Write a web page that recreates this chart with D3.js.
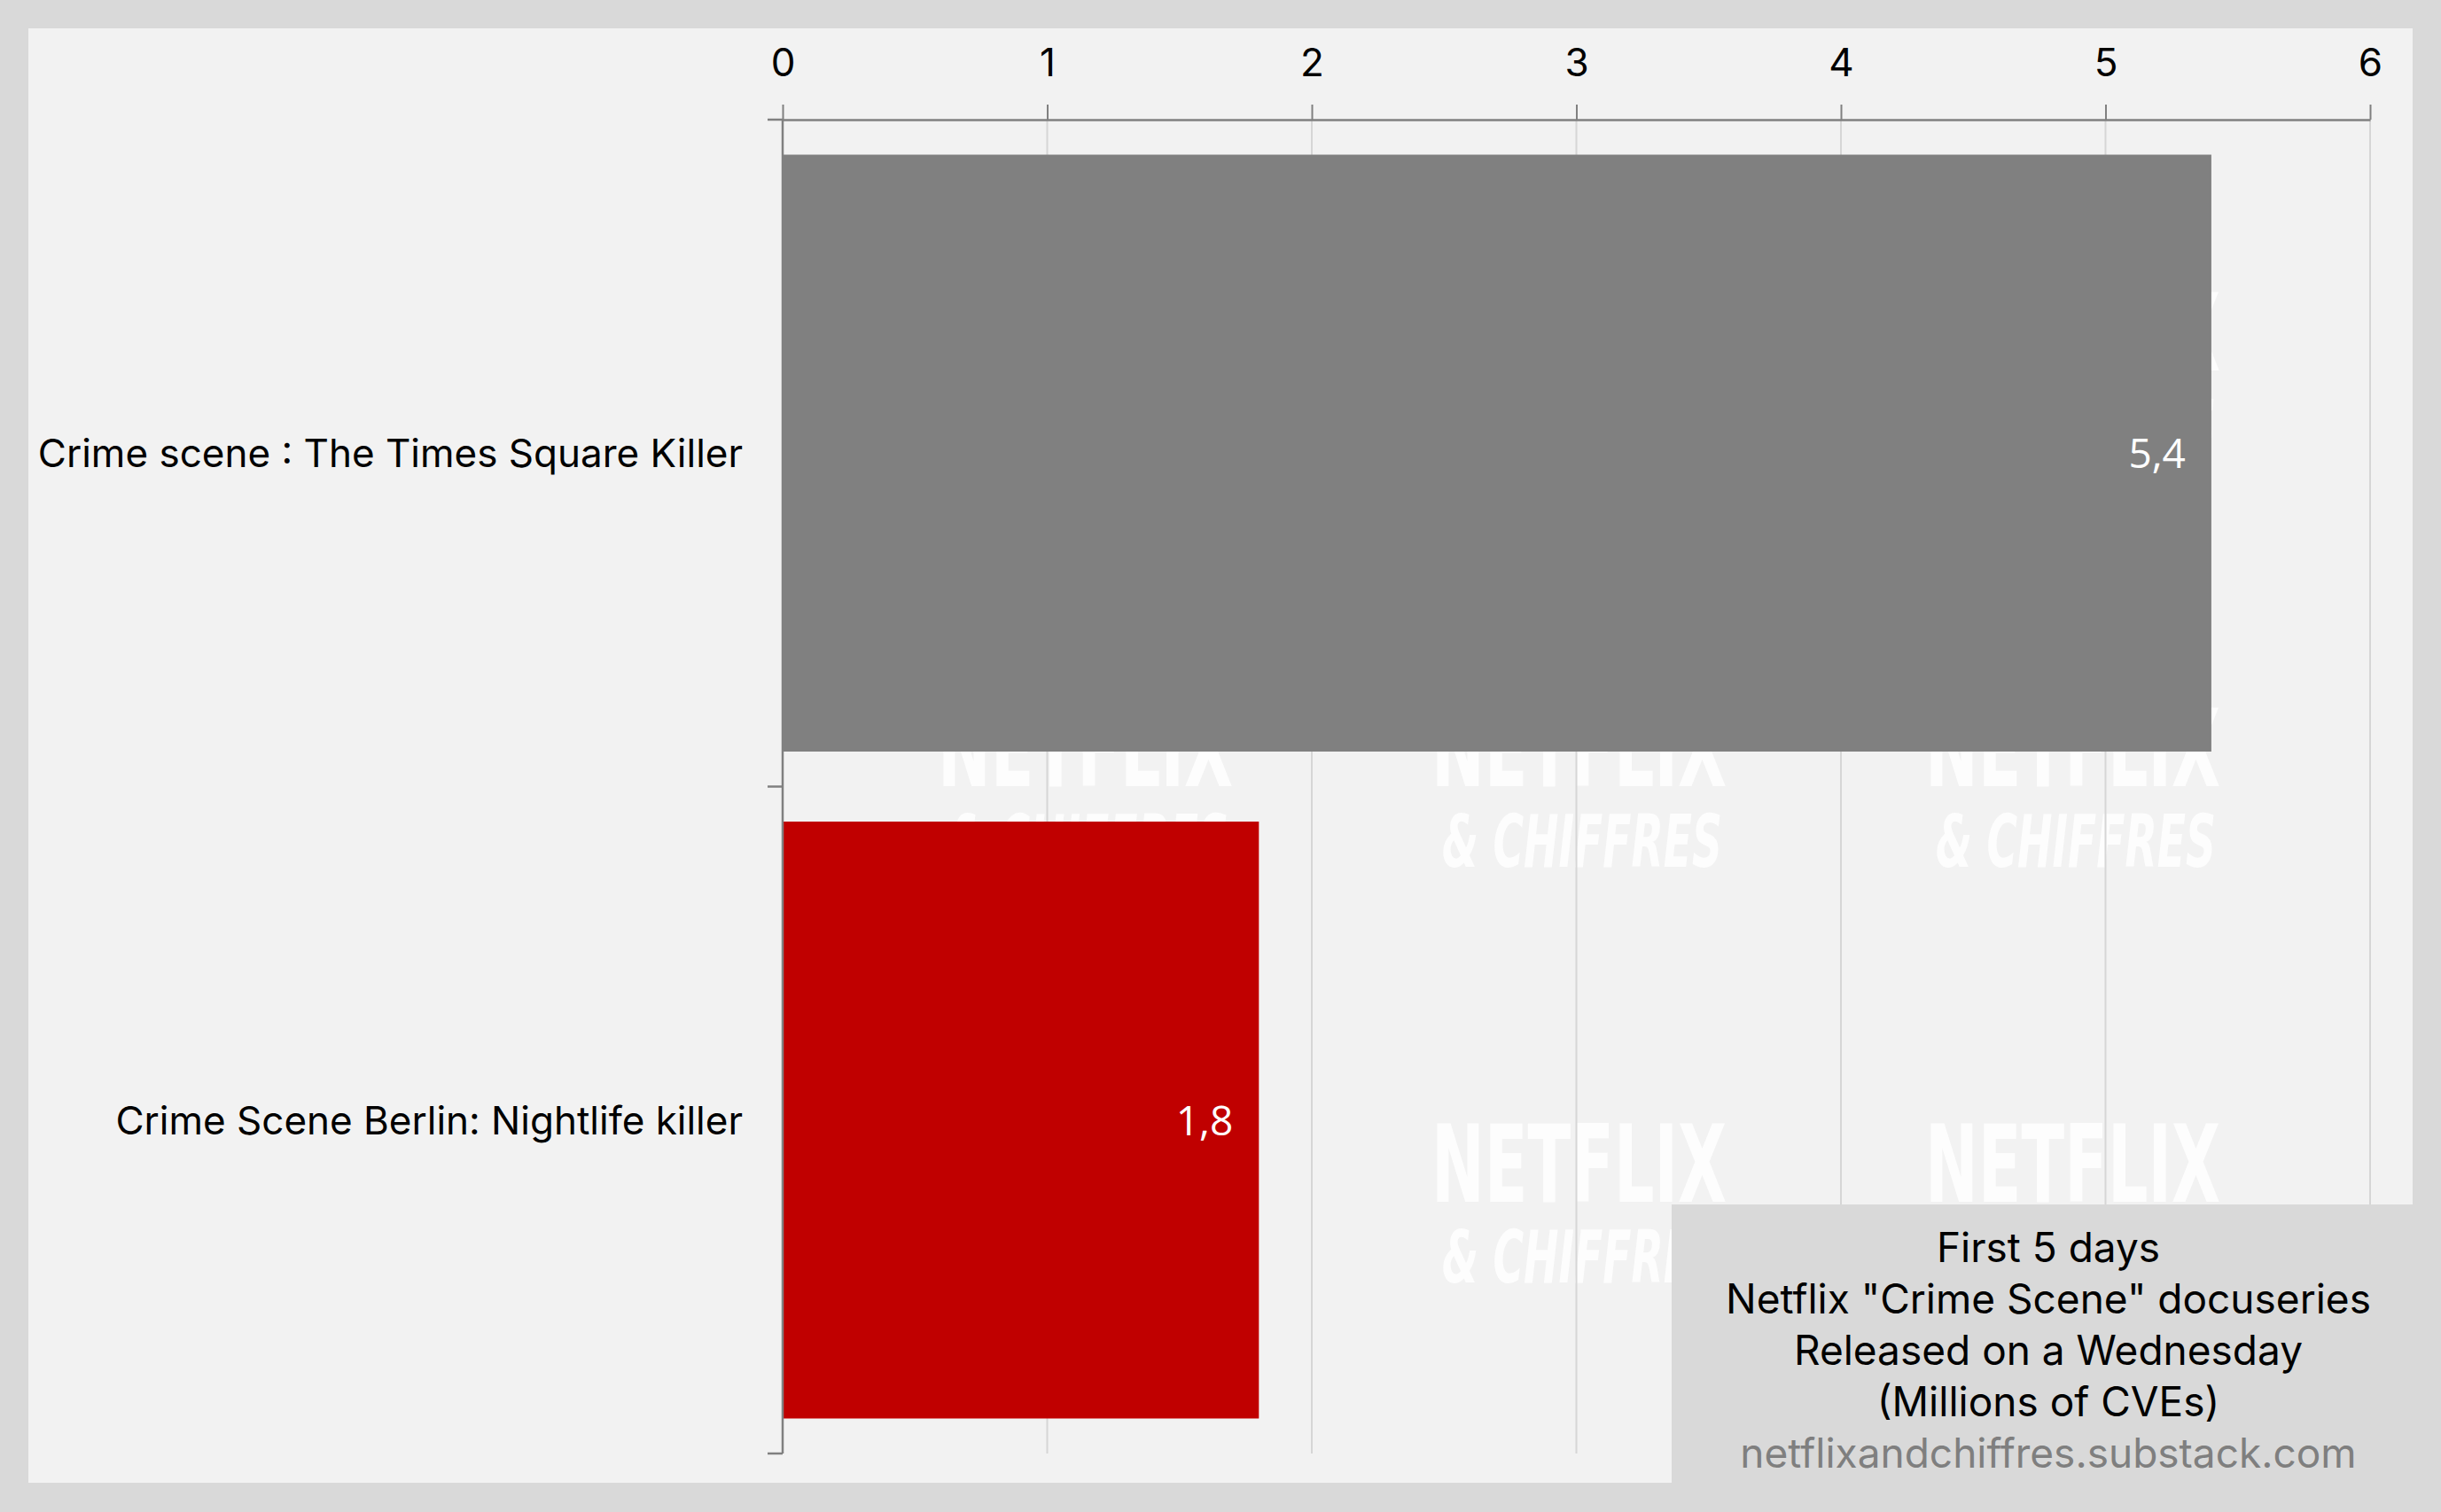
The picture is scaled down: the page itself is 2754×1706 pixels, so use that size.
<!DOCTYPE html>
<html>
<head>
<meta charset="utf-8">
<script src="https://cdn.jsdelivr.net/npm/d3@7"></script>
<style>
  html, body { margin: 0; padding: 0; background: #d9d9d9; }
  svg { display: block; }
</style>
</head>
<body>
<script>
// ---- Data ----
const categories = ["Crime scene : The Times Square Killer", "Crime Scene Berlin: Nightlife killer"];
const values = [5.4, 1.8];
const valueLabels = ["5,4", "1,8"];
const barColors = ["#808080", "#c00000"];
const xTicks = [0, 1, 2, 3, 4, 5, 6];
const xDomain = [0, 6];
const noteLines = ["First 5 days", "Netflix \"Crime Scene\" docuseries", "Released on a Wednesday", "(Millions of CVEs)"];
const sourceText = "netflixandchiffres.substack.com";
const watermarkTop = "NETFLIX";
const watermarkBottom = "& CHIFFRES";

// ---- Layout ----
const W = 2754, H = 1706;
const panel = {x: 32, y: 32, w: 2722 - 32, h: 1673 - 32};
const x0 = 883, x1 = 2674;
const yTop = 135, yBottom = 1640;
const font = "Inter, Roboto, 'Noto Sans', sans-serif";

const svg = d3.select("body").append("svg").attr("width", W).attr("height", H);

svg.append("rect").attr("x", 0).attr("y", 0).attr("width", W).attr("height", H).attr("fill", "#d9d9d9");
svg.append("rect").attr("x", panel.x).attr("y", panel.y).attr("width", panel.w).attr("height", panel.h).attr("fill", "#f2f2f2");

const x = d3.scaleLinear().domain(xDomain).range([x0, x1]);
const y = d3.scaleBand().domain(categories).range([yTop, yBottom]).paddingInner(0.105).paddingOuter(0.0525);

// ---- Watermarks ----
const wmCols = [1224, 1781, 2338];
const wmRows = [418, 887, 1356];
const wm = svg.append("g");
wmRows.forEach(r => {
  wmCols.forEach(c => {
    wm.append("text").attr("x", c - 166).attr("y", r)
      .attr("textLength", 333).attr("lengthAdjust", "spacingAndGlyphs")
      .attr("font-family", "'Liberation Sans Narrow', 'DejaVu Sans Condensed', sans-serif")
      .attr("font-weight", "bold").attr("font-size", 122)
      .attr("fill", "#fdfdfd").text(watermarkTop);
    wm.append("text").attr("x", c - 154).attr("y", r + 91)
      .attr("textLength", 316).attr("lengthAdjust", "spacingAndGlyphs")
      .attr("font-family", "'Liberation Sans Narrow', 'DejaVu Sans Condensed', sans-serif")
      .attr("font-weight", "bold").attr("font-style", "italic").attr("font-size", 82)
      .attr("fill", "#fdfdfd").text(watermarkBottom);
  });
});

// ---- Gridlines ----
svg.append("g").selectAll("line").data(xTicks.filter(d => d > 0)).join("line")
  .attr("x1", d => x(d)).attr("x2", d => x(d))
  .attr("y1", yTop).attr("y2", yBottom)
  .attr("stroke", "#d6d6d6").attr("stroke-width", 2);

// ---- Bars ----
const data = categories.map((c, i) => ({c, v: values[i], label: valueLabels[i], color: barColors[i]}));
svg.append("g").selectAll("rect").data(data).join("rect")
  .attr("x", x(0)).attr("y", d => y(d.c))
  .attr("width", d => x(d.v) - x(0)).attr("height", y.bandwidth())
  .attr("fill", d => d.color);

svg.append("g").selectAll("text").data(data).join("text")
  .attr("x", d => x(d.v) - 29).attr("y", d => y(d.c) + y.bandwidth() / 2 + 17)
  .attr("text-anchor", "end")
  .attr("font-family", "'Open Sans', sans-serif").attr("font-size", 46)
  .attr("fill", "#ffffff").text(d => d.label);

// ---- Top axis ----
const axT = svg.append("g").attr("transform", `translate(0,${yTop})`)
  .call(d3.axisTop(x).tickValues(xTicks).tickSize(17).tickSizeOuter(0).tickPadding(32).tickFormat(d3.format("d")));
axT.select(".domain").attr("stroke", "#808080").attr("stroke-width", 2.5);
axT.selectAll(".tick line").attr("stroke", "#808080").attr("stroke-width", 2);
axT.selectAll(".tick text").attr("font-family", font).attr("font-size", 44).attr("fill", "#000");

// ---- Left axis ----
const bounds = [y.range()[0], (y(categories[0]) + y.bandwidth() + y(categories[1])) / 2, y.range()[1]];
const axL = svg.append("g");
axL.append("line").attr("x1", x(0)).attr("x2", x(0)).attr("y1", bounds[0]).attr("y2", bounds[2])
  .attr("stroke", "#808080").attr("stroke-width", 2.5);
axL.selectAll("line.tk").data(bounds).join("line").attr("class", "tk")
  .attr("x1", x(0) - 17).attr("x2", x(0)).attr("y1", d => d).attr("y2", d => d)
  .attr("stroke", "#808080").attr("stroke-width", 2.5);

svg.append("g").selectAll("text").data(categories).join("text")
  .attr("x", 838).attr("y", d => y(d) + y.bandwidth() / 2 + 16)
  .attr("text-anchor", "end")
  .attr("font-family", font).attr("font-size", 44).attr("fill", "#000")
  .text(d => d);

// ---- Info box ----
svg.append("rect").attr("x", 1886).attr("y", 1359).attr("width", W - 1886).attr("height", H - 1359).attr("fill", "#d9d9d9");
const boxCx = 2311;
const lineYs = [1424, 1482, 1540, 1598];
svg.append("g").selectAll("text").data(noteLines).join("text")
  .attr("x", boxCx).attr("y", (d, i) => lineYs[i])
  .attr("text-anchor", "middle").attr("font-family", font).attr("font-size", 46).attr("fill", "#000")
  .text(d => d);
svg.append("text").attr("x", boxCx).attr("y", 1656)
  .attr("text-anchor", "middle").attr("font-family", font).attr("font-size", 46).attr("fill", "#7f7f7f")
  .text(sourceText);
</script>
</body>
</html>
